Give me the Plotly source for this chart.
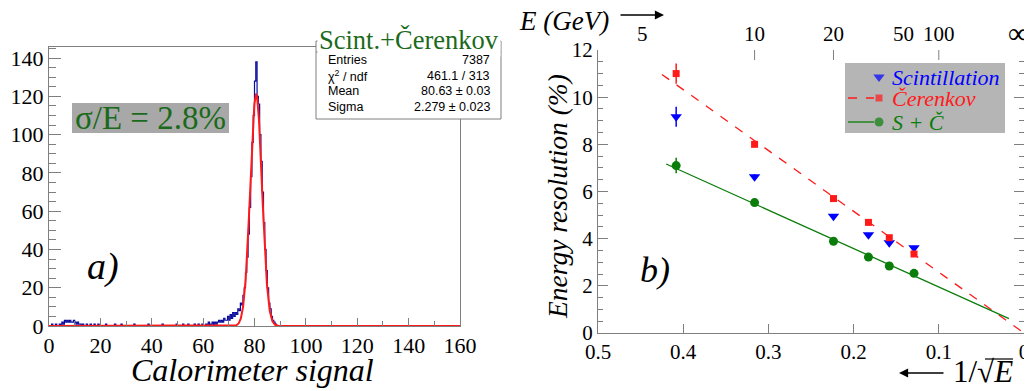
import numpy as np
import plotly.graph_objects as go

# The page body has an 8px margin: the figure is shrunk and every position below
# is given in window pixels, mapped through the offset.
WIN_W, WIN_H = 1032, 391
OFF = 8
FW, FH = WIN_W - OFF, WIN_H - OFF

# ---------------- data: panel a) ----------------
HIST_BIN_WIDTH = 0.5
HIST_NONZERO = {
    1.0: 1, 2.5: 1, 4.0: 1, 5.0: 2, 5.5: 1, 6.0: 3, 6.5: 2, 7.0: 3, 7.5: 2, 8.0: 3,
    8.5: 2, 9.0: 2, 9.5: 3, 10.0: 2, 10.5: 1, 11.0: 2, 11.5: 1, 12.0: 1, 13.0: 1,
    14.5: 1, 16.0: 1, 17.5: 1, 19.0: 1, 22.0: 1, 25.5: 1, 28.0: 1, 33.0: 1, 38.5: 1,
    44.0: 1, 49.5: 1, 52.0: 1, 54.0: 1, 56.5: 1, 58.0: 1, 59.5: 1, 61.0: 1, 62.0: 2,
    63.0: 1, 63.5: 2, 64.5: 2, 65.0: 1, 65.5: 2, 66.0: 3, 66.5: 2, 67.0: 3, 67.5: 2,
    68.0: 4, 68.5: 3, 69.0: 3, 69.5: 5, 70.0: 3, 70.5: 6, 71.0: 4, 71.5: 7,
    72.0: 5, 72.5: 7, 73.0: 6, 73.5: 9, 74.0: 8, 74.5: 12, 75.0: 11, 75.5: 16,
    76.0: 20, 76.5: 28, 77.0: 36, 77.5: 48, 78.0: 62, 78.5: 78, 79.0: 96,
    79.5: 110, 80.0: 128, 80.5: 138, 81.0: 120, 81.5: 116, 82.0: 100, 82.5: 86,
    83.0: 70, 83.5: 54, 84.0: 40, 84.5: 29, 85.0: 20, 85.5: 12, 86.0: 9, 86.5: 5,
    87.0: 3, 87.5: 2, 88.0: 1,
}
HIST_BIN_LEFT = [i * HIST_BIN_WIDTH for i in range(321)]
HIST_COUNTS = [HIST_NONZERO.get(x, 0) for x in HIST_BIN_LEFT]

FIT_CONST = 121.0
FIT_MEAN = 80.63
FIT_SIGMA = 2.279

STATS_LABELS = ["Entries", "χ<sup>2</sup> / ndf", "Mean", "Sigma"]
STATS_VALUES = ["7387", "461.1 / 313", "80.63 ± 0.03", "2.279 ± 0.023"]

# ---------------- data: panel b) ----------------
E_GEV = [6, 10, 20, 30, 40, 60]
SCINT = [9.17, 6.63, 4.95, 4.17, 3.83, 3.62]
SCINT_ERR = [0.42, 0.10, 0.08, 0.07, 0.07, 0.07]
CER = [11.0, 8.0, 5.70, 4.69, 4.04, 3.35]
CER_ERR = [0.43, 0.08, 0.07, 0.06, 0.06, 0.06]
SC = [7.10, 5.53, 3.89, 3.22, 2.84, 2.53]
SC_ERR = [0.33, 0.08, 0.06, 0.05, 0.05, 0.05]

CER_FIT = dict(intercept=0.0, slope=25.8, x_from=0.425, x_to=0.0)
SC_FIT = dict(intercept=0.32, slope=16.3, x_from=0.420, x_to=0.0176)

TOP_LABEL_E = [5, 10, 20, 50, 100]
TOP_LABEL_TEXT = ["5", "10", "20", "50", "100"]
TOP_INF_TEXT = "∞"
TOP_SHORT_TICK_E = [5, 6, 7, 8, 9, 30, 40, 50]
TOP_LONG_TICK_E = [10, 20, 100]

# ---------------- styling ----------------
SERIF = "Liberation Serif, Times New Roman, Times, serif"
SANS = "Liberation Sans, Arial, Helvetica, sans-serif"
AX = "#7f7f7f"
BLUE_H = "#0c0c9c"
RED = "#ff1a1a"
BLUE = "#0000ff"
GREEN = "#0a7d0a"
DGREEN = "#1b6a1b"


def dx(wx):
    return (wx - OFF) / FW


def dy(wy):
    return 1 - (wy - OFF) / FH


def inv_sqrt(e):
    return [float(1 / np.sqrt(v)) for v in e]


fig = go.Figure()

fig.add_trace(go.Scatter(x=HIST_BIN_LEFT, y=HIST_COUNTS, mode="lines",
                         line=dict(color=BLUE_H, width=1.2, shape="hv"),
                         xaxis="x", yaxis="y", showlegend=False))
xf = np.linspace(0, 160, 1601)
yf = FIT_CONST * np.exp(-0.5 * ((xf - FIT_MEAN) / FIT_SIGMA) ** 2)
fig.add_trace(go.Scatter(x=xf, y=yf, mode="lines", line=dict(color=RED, width=2),
                         xaxis="x", yaxis="y", showlegend=False))

for fit, color, dash in [(CER_FIT, RED, "dash"), (SC_FIT, GREEN, "solid")]:
    xs = np.array([fit["x_from"], fit["x_to"]])
    fig.add_trace(go.Scatter(x=xs, y=fit["intercept"] + fit["slope"] * xs, mode="lines",
                             line=dict(color=color, width=1.3, dash=dash),
                             xaxis="x2", yaxis="y2", showlegend=False))

xe = inv_sqrt(E_GEV)
for vals, errs, color, sym, size in [
    (SCINT, SCINT_ERR, BLUE, "triangle-down", 10),
    (CER, CER_ERR, RED, "square", 7),
    (SC, SC_ERR, GREEN, "circle", 9),
]:
    fig.add_trace(go.Scatter(x=xe, y=vals, mode="markers",
                             marker=dict(color=color, symbol=sym, size=size, line=dict(width=0)),
                             error_y=dict(type="data", array=errs, color=color, width=0, thickness=1.5),
                             xaxis="x2", yaxis="y2", showlegend=False))

LEG_Y = [77, 98, 122]
fig.add_trace(go.Scatter(x=[879, 879, 879], y=LEG_Y, mode="markers",
                         marker=dict(color=[BLUE, RED, GREEN],
                                     symbol=["triangle-down", "square", "circle"],
                                     size=[10, 7, 9], line=dict(width=0)),
                         xaxis="x4", yaxis="y4", showlegend=False, hoverinfo="skip"))

tickfont = dict(family=SERIF, size=22, color="black")
tickfont_b = dict(family=SERIF, size=21, color="black")
common = dict(showgrid=False, zeroline=False, showline=True, linecolor=AX, linewidth=1,
              ticks="inside", tickcolor=AX, automargin=False)

fig.update_layout(
    width=FW, height=FH, margin=dict(l=0, r=0, t=0, b=0, pad=0, autoexpand=False),
    paper_bgcolor="white", plot_bgcolor="rgba(0,0,0,0)",
    font=dict(family=SERIF),
    xaxis=dict(domain=[dx(49), dx(460)], range=[0, 160], dtick=20, tick0=0, ticklen=8,
               mirror=True, anchor="y", tickfont=tickfont,
               minor=dict(dtick=10, tick0=0, ticklen=5, ticks="inside", tickcolor=AX), **common),
    yaxis=dict(domain=[dy(326), dy(47)], range=[0, 145.8], dtick=20, tick0=0, ticklen=12,
               mirror=True, anchor="x", tickfont=tickfont,
               minor=dict(dtick=5, tick0=0, ticklen=7, ticks="inside", tickcolor=AX), **common),
    xaxis2=dict(domain=[dx(598), dx(1024)], range=[0.5, 0], dtick=0.1, tick0=0, ticklen=9,
                anchor="y2", tickfont=tickfont_b, **common),
    yaxis2=dict(domain=[dy(333), dy(50)], range=[0, 12], dtick=2, tick0=0, ticklen=10,
                anchor="x2", mirror="allticks", tickfont=tickfont_b,
                minor=dict(dtick=0.5, tick0=0, ticklen=5, ticks="inside", tickcolor=AX),
                **common),
    xaxis3=dict(overlaying="x2", anchor="y2", side="top", range=[0.5, 0],
                tickmode="array", tickvals=inv_sqrt(TOP_SHORT_TICK_E), ticklen=5,
                showticklabels=False, **common),
    xaxis4=dict(domain=[0, 1], range=[OFF, OFF + FW], visible=False, anchor="y4", fixedrange=True),
    yaxis4=dict(domain=[0, 1], range=[OFF + FH, OFF], visible=False, anchor="x4", fixedrange=True),
)

shapes = []
ann = []


def rect(x0, y0, x1, y1, fill, line=None, layer="below"):
    shapes.append(dict(type="rect", xref="x4", yref="y4", x0=x0, y0=y0, x1=x1, y1=y1,
                       fillcolor=fill, line=dict(width=1 if line else 0, color=line or fill),
                       layer=layer))


def seg(x0, y0, x1, y1, color, width=1.0, dash="solid", xref="x4"):
    shapes.append(dict(type="line", xref=xref, yref="y4", x0=x0, y0=y0, x1=x1, y1=y1,
                       line=dict(color=color, width=width, dash=dash)))


def text(x, y, s, size, color="black", family=SERIF, xanchor="center", yanchor="middle",
         angle=0, bg=None, xref="x4", xshift=0):
    d = dict(xref=xref, yref="y4", x=x, y=y, text=s, showarrow=False, xanchor=xanchor,
             yanchor=yanchor, textangle=angle, xshift=xshift,
             font=dict(family=family, size=size, color=color))
    if bg:
        d["bgcolor"] = bg
    ann.append(d)


# long ticks and labels of the top E axis, placed through the x2 scale
for v in inv_sqrt(TOP_LONG_TICK_E):
    seg(v, 50, v, 60, AX, xref="x2")
for v, lab in zip(inv_sqrt(TOP_LABEL_E), TOP_LABEL_TEXT):
    text(v, 34, lab, 21, xref="x2")
text(0.0, 33, TOP_INF_TEXT, 29, xref="x2", xshift=-6)

# stats box
rect(316, 41, 501, 119, "white", AX, layer="above")
seg(316, 52, 501, 52, AX)
text(409, 40, "Scint.+Čerenkov", 26.5, DGREEN, bg="white")
for i, (lab, val) in enumerate(zip(STATS_LABELS, STATS_VALUES)):
    yy = 60 + i * 15.5
    text(326, yy, lab, 12.5, "black", SANS, xanchor="left")
    text(492, yy, val, 12.5, "black", SANS, xanchor="right")

# sigma/E box
rect(72, 103, 229, 133, "#a8a8a8")
text(150, 118, "σ/E = 2.8%", 33, DGREEN)

# legend box
rect(845, 63, 1005, 133, "#b5b5b5")
seg(848, 98, 874, 98, RED, 1.3, "dash")
seg(848, 122, 874, 122, GREEN, 1.3)
text(890, 77, "<i>Scintillation</i>", 22, BLUE, xanchor="left")
text(890, 98, "<i>Čerenkov</i>", 22, RED, xanchor="left")
text(890, 122, "<i>S + Č</i>", 22, GREEN, xanchor="left")

# titles / labels
text(252, 370, "<i>Calorimeter signal</i>", 32)
text(103, 266, "<i>a)</i>", 38)
text(655, 270, "<i>b)</i>", 36)
text(557, 197, "<i>Energy resolution (%)</i>", 27.5, angle=-90)
text(611, 21, "<i>E (GeV)</i>", 27, xanchor="right")
text(951, 371, "1/√<i>E</i>", 31, xanchor="left")
seg(985, 359, 1013, 359, "black", 1.2)

ann.append(dict(xref="x4", yref="y4", axref="x4", ayref="y4", x=664, y=15, ax=619, ay=15,
                text="", showarrow=True, arrowhead=2, arrowsize=1.3, arrowwidth=1.4,
                arrowcolor="black"))
ann.append(dict(xref="x4", yref="y4", axref="x4", ayref="y4", x=899, y=373, ax=945, ay=373,
                text="", showarrow=True, arrowhead=2, arrowsize=1.3, arrowwidth=1.4,
                arrowcolor="black"))

fig.update_layout(shapes=shapes, annotations=ann)
fig.write_html("out.html")
